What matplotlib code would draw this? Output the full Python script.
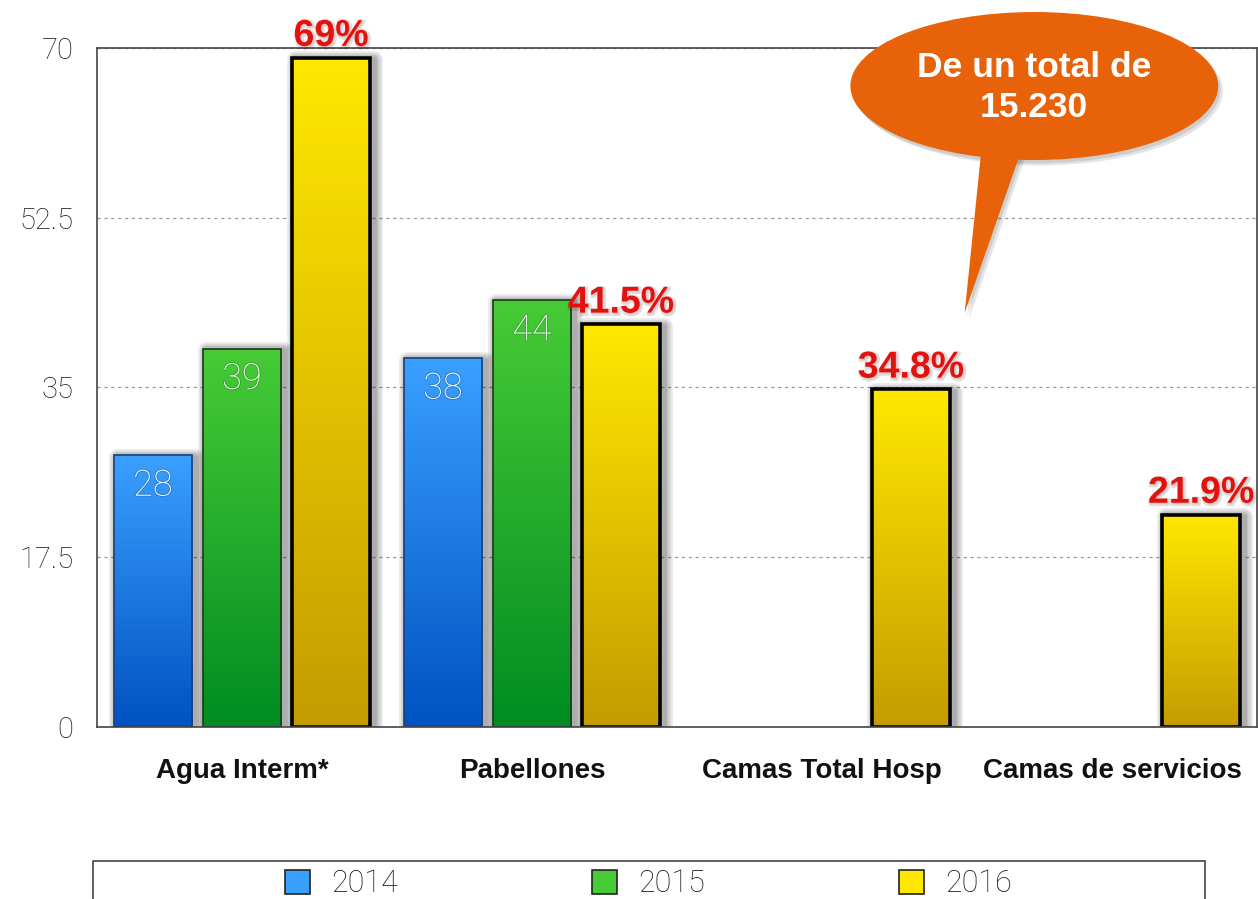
import numpy as np
import matplotlib
matplotlib.use("Agg")
import matplotlib.pyplot as plt
import matplotlib.patheffects as pe
from matplotlib.colors import LinearSegmentedColormap
from matplotlib.patches import Ellipse, Polygon, Rectangle, Patch

# data
categories = ["Agua Interm*", "Pabellones", "Camas Total Hosp", "Camas de servicios"]
years = ["2014", "2015", "2016"]
v2014 = [28, 38, np.nan, np.nan]
v2015 = [39, 44, np.nan, np.nan]
v2016 = [69, 41.5, 34.8, 21.9]
lbl2014 = ["28", "38", "", ""]
lbl2015 = ["39", "44", "", ""]
lbl2016 = ["69%", "41.5%", "34.8%", "21.9%"]
yticks = [0, 17.5, 35, 52.5, 70]
yticklabels = ["0", "17.5", "35", "52.5", "70"]
callout = "De un total de\n15.230"

BOLD = "Liberation Sans"
LIGHT = "Roboto"

# (bottom colour, top colour, edge colour, edge width)
styles = {
    "2014": ("#0052c2", "#3aa0ff", "#1d3f78", 1.2),
    "2015": ("#008c22", "#47cc36", "#1c3a1c", 1.2),
    "2016": ("#c49c00", "#ffe800", "#000000", 2.6),
}

fig = plt.figure(figsize=(12.58, 8.99), dpi=100)
ax = fig.add_axes([97 / 1258, 172 / 899, 1160 / 1258, 679 / 899])

x = np.arange(len(categories))
width = 0.269
offsets = [-0.307, 0, 0.307]
series = [v2014, v2015, v2016]

# soft shadow, a bit to the right
shadow = [pe.Stroke(linewidth=w, foreground="black", alpha=0.09, offset=(2.5, -1),
                    joinstyle="round")
          for w in (12, 9, 6, 3.5)]

for yr, vals, off in zip(years, series, offsets):
    c0, c1, ec, lw = styles[yr]
    cmap = LinearSegmentedColormap.from_list(yr, [c0, c1])
    pos = x + off
    ax.bar(pos, vals, width, facecolor="none", edgecolor="black", linewidth=0.1,
           path_effects=shadow, zorder=1.5)
    bars = ax.bar(pos, vals, width, color=c1, linewidth=0, zorder=2)
    for b in bars:
        h = b.get_height()
        if not np.isfinite(h):
            continue
        x0 = b.get_x()
        im = ax.imshow(np.linspace(0, 1, 256).reshape(-1, 1), cmap=cmap, origin="lower",
                       extent=(x0, x0 + b.get_width(), 0, h), aspect="auto", zorder=2.1)
        im.set_clip_path(b)
    ax.bar(pos, vals, width, fill=False, edgecolor=ec, linewidth=lw, zorder=2.2)

# labels inside the 2014 / 2015 bars
for vals, lbls, off in [(v2014, lbl2014, offsets[0]), (v2015, lbl2015, offsets[1])]:
    for xi, v, t in zip(x, vals, lbls):
        if t:
            ax.annotate(t, (xi + off, v), xytext=(0, -29), textcoords="offset points",
                        ha="center", va="baseline", color="white", fontsize=26,
                        family=LIGHT, fontweight="light", zorder=4,
                        path_effects=[pe.Stroke(linewidth=1.5, foreground="black",
                                                alpha=0.15), pe.Normal()])

# red percentages above the 2016 bars
for xi, v, t in zip(x, v2016, lbl2016):
    ax.annotate(t, (xi + offsets[2], v), xytext=(0, 8.5), textcoords="offset points",
                ha="center", va="baseline", color="#e3120f", fontsize=27,
                family=BOLD, fontweight="bold", zorder=4, annotation_clip=False,
                path_effects=[pe.Stroke(linewidth=3, foreground="black", alpha=0.12,
                                        offset=(1, -1)), pe.Normal()])

ax.set_xlim(-0.5, len(categories) - 0.5)
ax.set_ylim(0, 70)
ax.set_yticks(yticks)
ax.set_yticklabels(yticklabels, family=LIGHT, fontweight="light", fontsize=21, color="#1a1a1a")
ax.set_xticks(x)
ax.set_xticklabels(categories, family=BOLD, fontweight="bold", fontsize=20, color="#111111")
ax.tick_params(axis="y", length=0, pad=17)
ax.tick_params(axis="x", length=0, pad=22)
for s in ax.spines.values():
    s.set_color("#444444")
    s.set_linewidth(1.2)
ax.grid(axis="y", linestyle=(0, (2.5, 3)), color="#999999", linewidth=0.9, zorder=0.5)
ax.set_axisbelow(True)

# speech bubble
orange = "#e8620a"
ell = dict(xy=(0.808, 0.944), width=0.317, height=0.218)
tail = [(0.763, 0.86), (0.799, 0.86), (0.748, 0.610)]
for dx, dy, a in [(0.004, -0.008, 0.10), (0.002, -0.005, 0.10)]:
    ax.add_patch(Ellipse((ell["xy"][0] + dx, ell["xy"][1] + dy), ell["width"], ell["height"],
                         transform=ax.transAxes, facecolor="black", alpha=a, lw=0,
                         clip_on=False, zorder=5))
    ax.add_patch(Polygon([(px + dx, py + dy) for px, py in tail], closed=True,
                         transform=ax.transAxes, facecolor="black", alpha=a, lw=0,
                         clip_on=False, zorder=5))
ax.add_patch(Ellipse(ell["xy"], ell["width"], ell["height"], transform=ax.transAxes,
                     facecolor=orange, lw=0, clip_on=False, zorder=6))
ax.add_patch(Polygon(tail, closed=True, transform=ax.transAxes, facecolor=orange,
                     lw=0, clip_on=False, zorder=6))
ax.text(ell["xy"][0], ell["xy"][1] - 0.002, callout, transform=ax.transAxes, ha="center",
        va="center", color="white", fontsize=25.5, family=BOLD, fontweight="bold",
        linespacing=1.28, zorder=7)

# legend box at the bottom
fig.patches.append(Rectangle((93 / 1258, -0.05), 1112 / 1258, 0.05 + 38 / 899,
                             transform=fig.transFigure, facecolor="white",
                             edgecolor="#444444", linewidth=1.2))
handles = [Patch(facecolor=styles[y][1], edgecolor="#222222", linewidth=1.2) for y in years]
leg = fig.legend(handles, years, loc="center", bbox_to_anchor=(648.5 / 1258, 15 / 899),
                 ncol=3, frameon=False, handlelength=0.82, handleheight=0.82,
                 handletextpad=0.69, columnspacing=6.35, borderpad=0.2,
                 prop={"family": LIGHT, "weight": "light", "size": 22})
for t in leg.get_texts():
    t.set_color("#1a1a1a")

fig.savefig("out.png", dpi=100)
